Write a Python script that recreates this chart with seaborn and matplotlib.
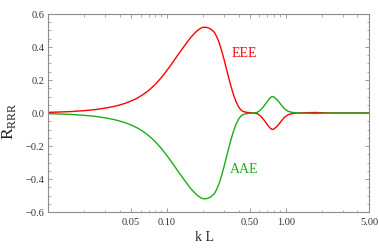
import numpy as np
import pandas as pd
import matplotlib
matplotlib.use('Agg')
import matplotlib.pyplot as plt
import seaborn as sns

# values
kL = [0.01, 0.01259, 0.01585, 0.01995, 0.02239, 0.02512, 0.02818, 0.03162,
      0.03548, 0.03981, 0.04467, 0.05012, 0.05623, 0.06310, 0.07079, 0.07943,
      0.08913, 0.1, 0.1122, 0.1259, 0.1413, 0.1585, 0.1778, 0.1905, 0.1995,
      0.2089, 0.2188, 0.2344, 0.2512, 0.2630, 0.2754, 0.2884, 0.3020, 0.3162,
      0.3311, 0.3467, 0.3631, 0.3802, 0.3981, 0.4169, 0.4365, 0.4677, 0.5012,
      0.5370, 0.5754, 0.6166, 0.6607, 0.7079, 0.7413, 0.7674, 0.7943, 0.8511,
      0.9120, 0.9772, 1.047, 1.122, 1.259, 1.514, 1.778, 2.089, 2.512, 3.548, 5.0]
eee = [0.004, 0.006, 0.009, 0.014, 0.017, 0.021, 0.026, 0.032,
       0.039, 0.048, 0.059, 0.073, 0.090, 0.112, 0.139, 0.172,
       0.212, 0.258, 0.308, 0.360, 0.410, 0.458, 0.496, 0.512, 0.519,
       0.520, 0.518, 0.508, 0.488, 0.460, 0.425, 0.378, 0.325, 0.268,
       0.212, 0.158, 0.110, 0.070, 0.040, 0.020, 0.009, 0.004, 0.002,
       0.000, -0.004, -0.020, -0.046, -0.076, -0.093, -0.100, -0.097, -0.078,
       -0.050, -0.025, -0.010, -0.004, 0.000, 0.002, 0.003, 0.001, 0.0, 0.0, 0.0]
aae = [-0.004, -0.006, -0.009, -0.014, -0.017, -0.021, -0.026, -0.032,
       -0.039, -0.048, -0.059, -0.073, -0.090, -0.112, -0.139, -0.172,
       -0.212, -0.258, -0.308, -0.360, -0.410, -0.458, -0.496, -0.512, -0.519,
       -0.520, -0.518, -0.508, -0.488, -0.460, -0.425, -0.378, -0.325, -0.268,
       -0.212, -0.158, -0.110, -0.070, -0.040, -0.020, -0.009, -0.004, -0.002,
       0.000, 0.004, 0.020, 0.046, 0.076, 0.093, 0.100, 0.097, 0.078,
       0.050, 0.025, 0.010, 0.004, 0.000, -0.002, -0.003, -0.001, 0.0, 0.0, 0.0]

x_major = [0.05, 0.1, 0.5, 1.0, 5.0]
x_major_labels = ['0.05', '0.10', '0.50', '1.00', '5.00']
y_major = [-0.6, -0.4, -0.2, 0.0, 0.2, 0.4, 0.6]
y_major_labels = ['\u22120.6', '\u22120.4', '\u22120.2', '0.0', '0.2', '0.4', '0.6']

df = pd.DataFrame({'kL': kL + kL,
                   'R': eee + aae,
                   'series': ['EEE'] * len(kL) + ['AAE'] * len(kL)})

sns.set_style('ticks')
plt.rcParams['font.family'] = ['Liberation Serif', 'DejaVu Serif']
plt.rcParams['mathtext.fontset'] = 'custom'
plt.rcParams['mathtext.rm'] = 'Liberation Serif'

red = '#ff0000'
green = '#1aad1a'
frame = '#8c8c8c'

fig = plt.figure(figsize=(3.79, 2.52), dpi=100)
ax = fig.add_axes([48 / 379, 40 / 252, 321 / 379, 198 / 252])

sns.lineplot(data=df, x='kL', y='R', hue='series', hue_order=['EEE', 'AAE'],
             palette={'EEE': red, 'AAE': green}, linewidth=1.0, legend=False,
             sort=False, ax=ax)

ax.set_xscale('log')
ax.set_xlim(0.01, 5.0)
ax.set_ylim(-0.6, 0.6)

ax.set_xticks(x_major)
ax.set_xticklabels(x_major_labels)
minor_x = [m * d for d in (0.01, 0.1, 1.0) for m in range(1, 10)]
minor_x = [v for v in minor_x if 0.01 <= v <= 5.0 and round(v, 4) not in x_major]
ax.set_xticks(minor_x, minor=True)
ax.xaxis.set_minor_formatter(matplotlib.ticker.NullFormatter())
ax.set_yticks(y_major)
ax.set_yticklabels(y_major_labels)
ax.set_yticks(np.arange(-0.6, 0.61, 0.05), minor=True)

ax.tick_params(which='both', direction='in', top=True, right=True,
               color=frame, labelsize=7.5, labelcolor='#333333')
ax.tick_params(which='major', length=3.2, width=0.6)
ax.tick_params(which='minor', length=1.8, width=0.5)
ax.tick_params(axis='x', pad=4)
ax.tick_params(axis='y', pad=2.5)
for s in ax.spines.values():
    s.set_color(frame)
    s.set_linewidth(0.8)

ax.set_xlabel('k L', fontsize=10)
ax.xaxis.set_label_coords(0.486, -0.095)
ax.set_ylabel(r'R$_\mathregular{RRR}$', fontsize=12.5)
ax.yaxis.set_label_coords(-0.095, 0.46)

ax.text(0.35, 0.36, 'EEE', color=red, fontsize=10, ha='left', va='center')
ax.text(0.337, -0.345, 'AAE', color=green, fontsize=10, ha='left', va='center')

fig.savefig('out.png', dpi=100)
